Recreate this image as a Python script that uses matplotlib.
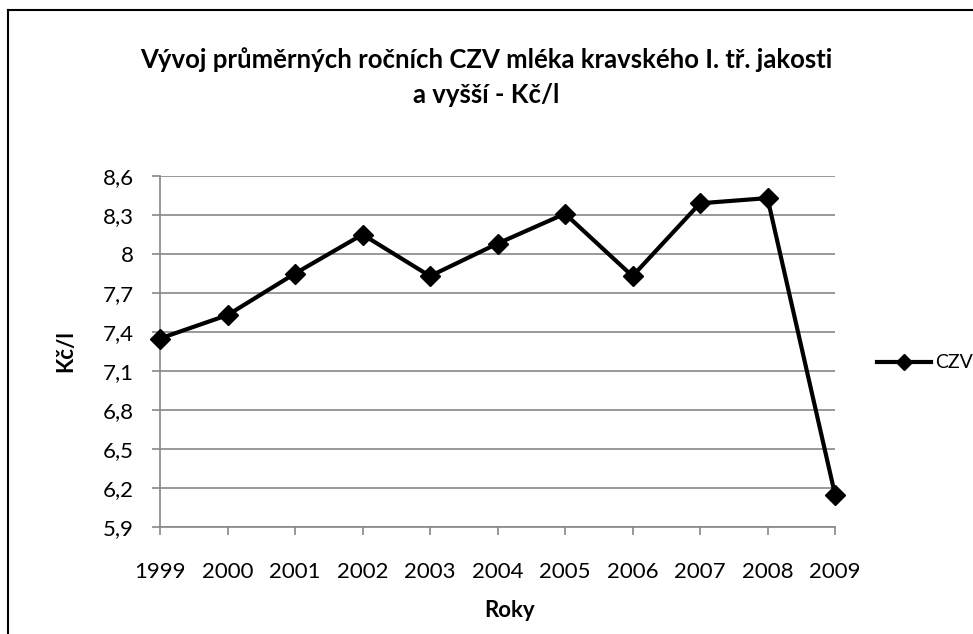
"""Vývoj průměrných ročních CZV mléka — line chart, Excel-like styling."""

import matplotlib
matplotlib.use("Agg")
import matplotlib.pyplot as plt
from matplotlib.lines import Line2D
from matplotlib.ticker import FixedLocator, FuncFormatter

years = ["1999", "2000", "2001", "2002", "2003", "2004",
         "2005", "2006", "2007", "2008", "2009"]
czv = [7.35, 7.53, 7.85, 8.15, 7.83, 8.08, 8.31, 7.83, 8.39, 8.43, 6.15]
y_ticks = [5.9, 6.2, 6.5, 6.8, 7.1, 7.4, 7.7, 8.0, 8.3, 8.6]

FONT = "Lato"
GRID = "#878787"

fig = plt.figure(figsize=(9.73, 6.34), dpi=100)
ax = fig.add_axes([160 / 973, 1 - 527 / 634, 675 / 973, 351 / 634])

x = list(range(len(years)))
ax.plot(x, czv, color="black", linewidth=3, marker="D", markersize=10,
        label="CZV", zorder=3, clip_on=False)

ax.set_xlim(0, len(years) - 1)
ax.set_ylim(y_ticks[0], y_ticks[-1])
ax.yaxis.set_major_locator(FixedLocator(y_ticks))
ax.yaxis.set_major_formatter(
    FuncFormatter(lambda v, _: f"{v:g}".replace(".", ",")))
ax.set_xticks(x)
ax.set_xticklabels(years)

ax.grid(axis="y", color=GRID, linewidth=1.2)
ax.set_axisbelow(True)
for side in ("top", "right"):
    ax.spines[side].set_visible(False)
for side in ("left", "bottom"):
    ax.spines[side].set_color(GRID)
    ax.spines[side].set_linewidth(1.2)
ax.tick_params(axis="both", direction="out", length=6, color=GRID,
               width=1.2, labelsize=16)
ax.tick_params(axis="x", pad=19)
ax.tick_params(axis="y", pad=13)
for lab in ax.get_xticklabels() + ax.get_yticklabels():
    lab.set_family(FONT)

ax.set_xlabel("Roky", fontsize=16, fontweight="bold", family=FONT)
ax.xaxis.set_label_coords((510 - 160) / 675, -(600 - 527) / 351)
ax.set_ylabel("Kč/l", fontsize=16, fontweight="bold", family=FONT)
ax.yaxis.set_label_coords(-(160 - 76) / 675, 0.5)

fig.text(0.5, 1 - 60 / 634, "Vývoj průměrných ročních CZV mléka kravského I. tř. jakosti",
         ha="center", va="center", fontsize=18.5, fontweight="bold", family=FONT)
fig.text(0.5, 1 - 95 / 634, "a vyšší - Kč/l",
         ha="center", va="center", fontsize=18.5, fontweight="bold", family=FONT)

leg = ax.legend(loc="center left", bbox_to_anchor=(877 / 973, 1 - 363 / 634),
                bbox_transform=fig.transFigure, frameon=False,
                handlelength=2.8, handletextpad=0.2, borderpad=0,
                borderaxespad=0, prop={"family": FONT, "size": 14})
for h in leg.legend_handles:
    h.set_markersize(8)

# chart-area border (only top and left edges fall inside the image)
fig.add_artist(Line2D([8 / 973, 8 / 973], [0, 1 - 10 / 634],
                      transform=fig.transFigure, color="black", linewidth=1.5))
fig.add_artist(Line2D([8 / 973, 1], [1 - 10 / 634, 1 - 10 / 634],
                      transform=fig.transFigure, color="black", linewidth=1.5))

fig.savefig("out.png", dpi=100)
